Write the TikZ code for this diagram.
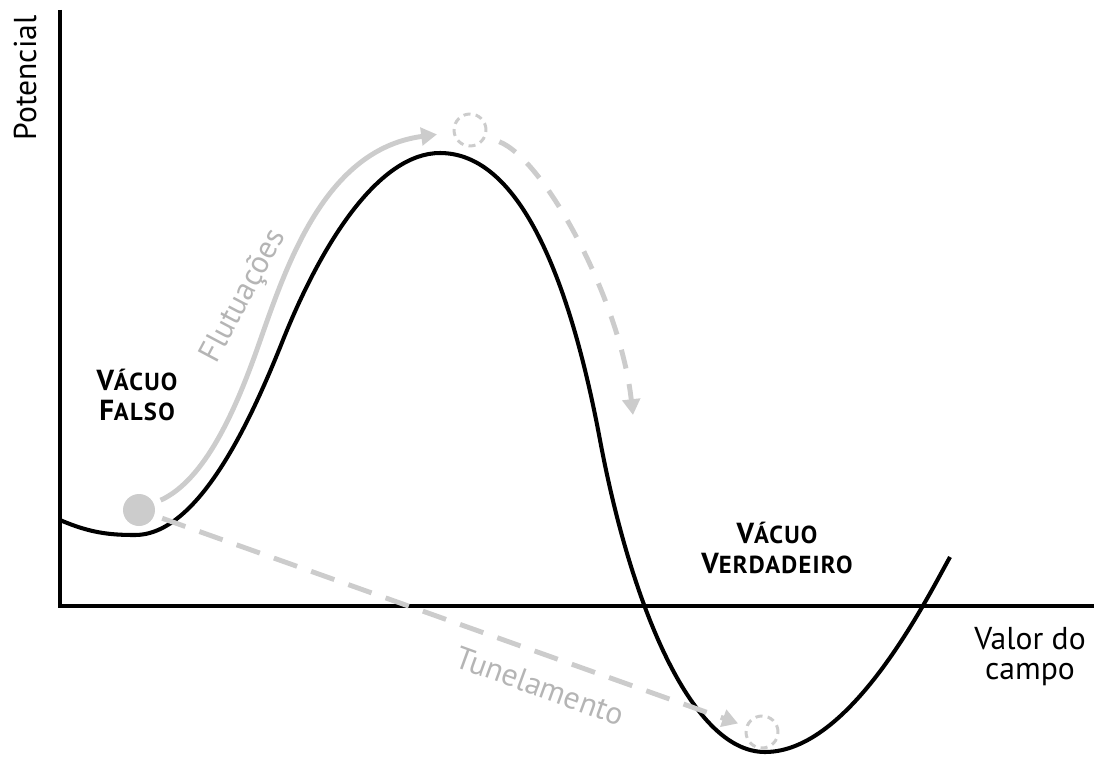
\documentclass[tikz,border=0pt]{standalone}
\usepackage{fontspec}
\setmainfont{PT Sans}
\usetikzlibrary{arrows.meta}

\newcommand{\initcap}[1]{{\fontsize{16.5}{17}\selectfont #1}}

\begin{document}
\begin{tikzpicture}[x=0.02cm, y=-0.02cm, thick]
    \definecolor{lgray}{HTML}{CCCCCC}
    \definecolor{tgray}{HTML}{B5B5B5}
    \tikzstyle{axis} = [line width=2.3pt, line join=miter]
    \tikzstyle{ball} = [circle, fill=lgray, inner sep=0pt, minimum size=0.64cm]
    \tikzstyle{ghost} = [circle, draw=lgray, line width=1.7pt, dash pattern=on 4pt off 3pt, inner sep=0pt, minimum size=0.64cm]
    \tikzstyle{flow} = [draw=lgray, line width=2.8pt, -{Triangle[length=9pt, width=10pt]}]
    \tikzstyle{tunnel} = [flow, dash pattern=on 14pt off 8.5pt]
    \tikzstyle{vac} = [font=\bfseries\fontsize{14}{17}\selectfont\addfontfeatures{LetterSpace=5}, align=center]
    \tikzstyle{note} = [text=tgray, font=\fontsize{18}{20}\selectfont]

    \useasboundingbox (0,0) rectangle (1094,757);

    % axes
    \coordinate (O) at (60,606);
    \coordinate (Ytop) at (60,10);
    \coordinate (Xend) at (1094,606);
    \draw[axis] (Ytop) -- (O) -- (Xend);
    \node[rotate=90, font=\fontsize{18}{20}\selectfont] (Y) at (25,78) {Potencial};
    \node[font=\fontsize{18}{17}\selectfont, align=center] (X) at (1030,657) {Valor do\\campo};

    % potential
    \draw[line width=2.3pt] (60,520) .. controls (90,533) and (110,535) .. (135,535)
        .. controls (200,535) and (253,415) .. (283,340)
        .. controls (323,240) and (380,153) .. (440,153)
        .. controls (520,153) and (570,280) .. (600,440)
        .. controls (630,600) and (690,752) .. (765,752)
        .. controls (850,752) and (925,602) .. (950,557);

    % field states
    \node[ball] (F) at (139,510) {};
    \node[ghost] (T) at (470,130) {};
    \node[ghost] (V) at (762,732) {};
    \coordinate (Fall) at (633,415);

    \draw[flow, shorten <=4pt, shorten >=9pt] (F) .. controls (205,480) and (235,410) .. (255,355)
        .. controls (283,277) and (320,150) .. (T);
    \draw[flow, dash pattern=on 11pt off 9pt, shorten <=8pt] (T) .. controls (545,160) and (620,300) .. (Fall);
    \draw[tunnel, shorten <=4.5pt, shorten >=4.5pt] (F) -- (V);

    \node[note, rotate=62] (FL) at (244,296) {Flutuações};
    \node[note, rotate=-20] (TN) at (540,686) {Tunelamento};

    \node[vac] (FV) at (137,395) {\initcap{V}ÁCUO\\\initcap{F}ALSO};
    \node[vac] (TV) at (777,548) {\initcap{V}ÁCUO\\\initcap{V}ERDADEIRO};
\end{tikzpicture}
\end{document}
